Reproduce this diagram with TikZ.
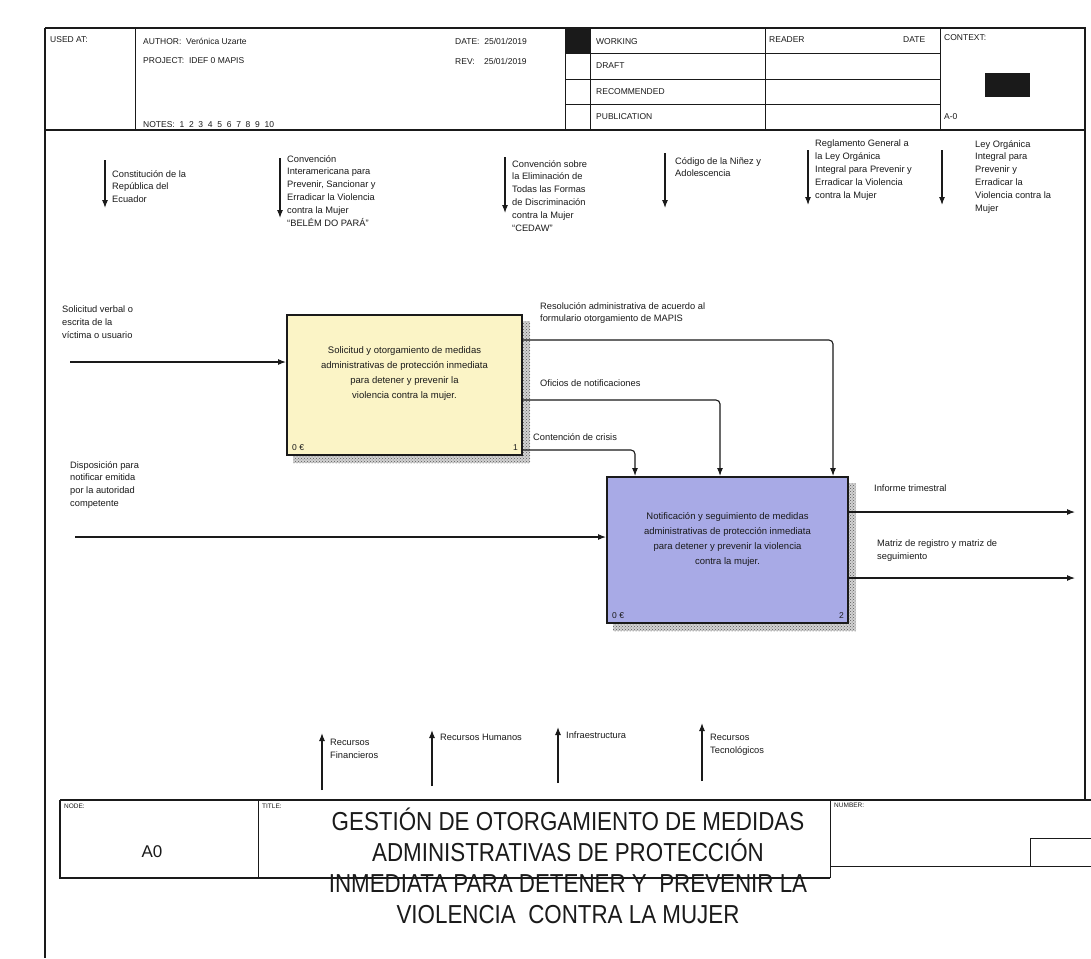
\documentclass[tikz,border=0pt]{standalone}
\usepackage{fontspec}
\setmainfont{Liberation Sans}
\newfontfamily\narrowfont[FakeStretch=0.86]{Liberation Sans}
\usetikzlibrary{arrows.meta,patterns,backgrounds}
\definecolor{boxyellow}{HTML}{FBF4C6}
\definecolor{boxblue}{HTML}{A8AAE6}
\definecolor{ink}{HTML}{1A1A1A}
\begin{document}
\begin{tikzpicture}[x=1pt,y=-1pt,
  frame/.style={draw=ink,line width=1.1pt},
  thin/.style={draw=ink,line width=0.8pt},
  hdr/.style={font=\fontsize{8.5}{10}\selectfont,inner sep=0pt,anchor=west,text=ink},
  lbl/.style={font=\fontsize{9.3}{12.8}\selectfont,inner sep=0pt,anchor=north west,align=left,text=ink},
  boxtxt/.style={font=\fontsize{9.5}{15}\selectfont,inner sep=0pt,align=center,text=ink},
  arr/.style={draw=ink,line width=1.1pt,-{Latex[length=8pt,width=6pt]}},
  act/.style={draw=ink,line width=2pt,inner sep=0pt},
  shadowfill/.style={fill=gray!35},
  shadow/.style={pattern=crosshatch dots,pattern color=black!65},
  ttl/.style={font=\narrowfont\fontsize{26}{31}\selectfont,align=center,inner sep=0pt,text=ink}]
\useasboundingbox (0,0) rectangle (1091,958);

% ---------- frame ----------
\draw[frame] (45,28) -- (45,958);
\draw[frame] (45,28) -- (1085,28) -- (1085,800);
% ---------- header ----------
\draw[frame] (45,130) -- (1085,130);
\draw[thin] (135,28) -- (135,130);
\draw[thin] (565,28) -- (565,130);
\draw[thin] (590,28) -- (590,130);
\draw[thin] (765,28) -- (765,130);
\draw[thin] (940,28) -- (940,130);
\foreach \yy in {53.5,79,104.5} \draw[thin] (565,\yy) -- (940,\yy);
\fill[ink] (565,28) rectangle (590,53.5);
\node[hdr] (usedat) at (50,40) {USED AT:};
\node[hdr] (author) at (143,41) {AUTHOR:\ \ Verónica Uzarte};
\node[hdr] (project) at (143,61) {PROJECT:\ \ IDEF 0 MAPIS};
\node[hdr] (notes) at (143,125) {NOTES:\ \ 1\ \ 2\ \ 3\ \ 4\ \ 5\ \ 6\ \ 7\ \ 8\ \ 9\ \ 10};
\node[hdr] (date) at (455,41) {DATE:\ \ 25/01/2019};
\node[hdr] (rev) at (455,61) {REV:\ \ \ \ 25/01/2019};
\node[hdr] (working) at (596,42) {WORKING};
\node[hdr] (draft) at (596,66) {DRAFT};
\node[hdr] (recom) at (596,92) {RECOMMENDED};
\node[hdr] (publ) at (596,117) {PUBLICATION};
\node[hdr] (reader) at (769,40) {READER};
\node[hdr] (rdate) at (903,40) {DATE};
\node[hdr] (context) at (944,38) {CONTEXT:};
\fill[ink] (985,73) rectangle (1030,97);
\node[hdr] (azero) at (944,117) {A-0};

% ---------- controls (top) ----------
\coordinate (c1s) at (105,160); \coordinate (c1e) at (105,208);
\coordinate (c2s) at (280,158); \coordinate (c2e) at (280,218);
\coordinate (c3s) at (505,157); \coordinate (c3e) at (505,213);
\coordinate (c4s) at (665,153); \coordinate (c4e) at (665,208);
\coordinate (c5s) at (808,150); \coordinate (c5e) at (808,205);
\coordinate (c6s) at (942,150); \coordinate (c6e) at (942,205);
\foreach \i in {1,...,6} \draw[arr] (c\i s) -- (c\i e);
\node[lbl] (l1) at (112,170) {Constitución de la\\República del\\Ecuador};
\node[lbl] (l2) at (287,155) {Convención\\Interamericana para\\Prevenir, Sancionar y\\Erradicar la Violencia\\contra la Mujer\\“BELÉM DO PARÁ”};
\node[lbl] (l3) at (512,160) {Convención sobre\\la Eliminación de\\Todas las Formas\\de Discriminación\\contra la Mujer\\“CEDAW”};
\node[lbl] (l4) at (675,157) {Código de la Niñez y\\Adolescencia};
\node[lbl] (l5) at (815,140) {Reglamento General a\\la Ley Orgánica\\Integral para Prevenir y\\Erradicar la Violencia\\contra la Mujer};
\node[lbl] (l6) at (975,140) {Ley Orgánica\\Integral para\\Prevenir y\\Erradicar la\\Violencia contra la\\Mujer};

% ---------- activity boxes ----------
\node[act,fill=boxyellow,minimum width=235pt,minimum height=140pt] (b1) at (404.5,385) {};
\node[act,fill=boxblue,minimum width=241pt,minimum height=146pt] (b2) at (727.5,550) {};
\begin{scope}[on background layer]
  \fill[white] (0,0) rectangle (1091,958);
  \fill[shadowfill] ([shift={(7,7)}]b1.north west) rectangle ([shift={(7,7)}]b1.south east);
  \fill[shadowfill] ([shift={(7,7)}]b2.north west) rectangle ([shift={(7,7)}]b2.south east);
  \fill[shadow] ([shift={(7,7)}]b1.north west) rectangle ([shift={(7,7)}]b1.south east);
  \fill[shadow] ([shift={(7,7)}]b2.north west) rectangle ([shift={(7,7)}]b2.south east);
\end{scope}
\node[boxtxt] (t1) at ([shift={(0,-11)}]b1.center) {Solicitud y otorgamiento de medidas\\administrativas de protección inmediata\\para detener y prevenir la\\violencia contra la mujer.};
\node[boxtxt] (t2) at ([shift={(0,-11)}]b2.center) {Notificación y seguimiento de medidas\\administrativas de protección inmediata\\para detener y prevenir la violencia\\contra la mujer.};
\node[hdr,anchor=south west] (k1) at ([shift={(6,-5)}]b1.south west) {0 €};
\node[hdr,anchor=south east] (n1) at ([shift={(-5,-5)}]b1.south east) {1};
\node[hdr,anchor=south west] (k2) at ([shift={(6,-5)}]b2.south west) {0 €};
\node[hdr,anchor=south east] (n2) at ([shift={(-5,-5)}]b2.south east) {2};

% ---------- inputs ----------
\coordinate (i1) at (70,362);
\coordinate (i2) at (75,537);
\draw[arr] (i1) -- (i1 -| b1.west);
\draw[arr] (i2) -- (i2 -| b2.west);
\node[lbl] (li1) at (62,306) {Solicitud verbal o\\escrita de la\\víctima o usuario};
\node[lbl] (li2) at (70,461) {Disposición para\\notificar emitida\\por la autoridad\\competente};

% ---------- box1 -> box2 ----------
\draw[arr,rounded corners=4pt] (b1.east |- 0,340) -| (b2.north -| 833,0);
\draw[arr,rounded corners=4pt] (b1.east |- 0,400) -| (b2.north -| 720,0);
\draw[arr,rounded corners=4pt] (b1.east |- 0,450) -| (b2.north -| 635,0);
\node[lbl] (lr) at (540,302) {Resolución administrativa de acuerdo al\\formulario otorgamiento de MAPIS};
\node[lbl] (lo) at (540,380) {Oficios de notificaciones};
\node[lbl] (lc) at (533,433) {Contención de crisis};

% ---------- outputs ----------
\coordinate (o1) at (1075,512);
\coordinate (o2) at (1075,578);
\draw[arr] (b2.east |- o1) -- (o1);
\draw[arr] (b2.east |- o2) -- (o2);
\node[lbl] (lo1) at (874,485) {Informe trimestral};
\node[lbl] (lo2) at (877,540) {Matriz de registro y matriz de\\seguimiento};

% ---------- mechanisms ----------
\coordinate (m1s) at (322,790); \coordinate (m1e) at (322,733);
\coordinate (m2s) at (432,786); \coordinate (m2e) at (432,730);
\coordinate (m3s) at (558,783); \coordinate (m3e) at (558,727);
\coordinate (m4s) at (702,781); \coordinate (m4e) at (702,723);
\foreach \i in {1,...,4} \draw[arr] (m\i s) -- (m\i e);
\node[lbl] (lm1) at (330,739) {Recursos\\Financieros};
\node[lbl] (lm2) at (440,734) {Recursos Humanos};
\node[lbl] (lm3) at (566,732) {Infraestructura};
\node[lbl] (lm4) at (710,734) {Recursos\\Tecnológicos};

% ---------- footer ----------
\draw[frame] (60,800) -- (1091,800);
\draw[frame] (60,800) -- (60,878) -- (830,878);
\draw[thin] (258,800) -- (258,878);
\draw[thin] (830,800) -- (830,878);
\draw[thin] (830,866) -- (1091,866);
\draw[thin] (1030,866) -- (1030,838) -- (1091,838);
\node[hdr,font=\fontsize{6.5}{7}\selectfont,anchor=north west] (fnode) at (64,804) {NODE:};
\node[hdr,font=\fontsize{6.5}{7}\selectfont,anchor=north west] (ftitle) at (262,804) {TITLE:};
\node[hdr,font=\fontsize{6.5}{7}\selectfont,anchor=north west] (fnum) at (834,803) {NUMBER:};
\node[font=\fontsize{17}{20}\selectfont,inner sep=0pt,text=ink] (a0) at (152,852) {A0};
\node[ttl] (title) at (568,866) {GESTIÓN DE OTORGAMIENTO DE MEDIDAS\\ADMINISTRATIVAS DE PROTECCIÓN\\INMEDIATA PARA DETENER Y\ \ PREVENIR LA\\VIOLENCIA\ \ CONTRA LA MUJER};
\end{tikzpicture}
\end{document}
